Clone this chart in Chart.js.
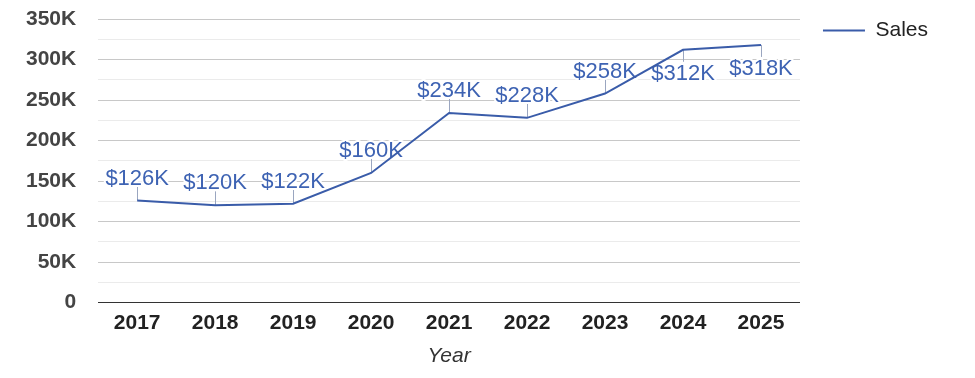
<!DOCTYPE html>
<html>
<head>
<meta charset="utf-8">
<script src="https://cdn.jsdelivr.net/npm/chart.js@4"></script>
<style>
  html, body { margin: 0; padding: 0; background: #fff; }
  #wrap { width: 975px; height: 378px; }
</style>
</head>
<body>
<div id="wrap"><canvas id="chart"></canvas></div>
<script>
const years = ['2017', '2018', '2019', '2020', '2021', '2022', '2023', '2024', '2025'];
const sales = [126000, 120000, 122000, 160000, 234000, 228000, 258000, 312000, 318000];
const seriesName = 'Sales';

const lineColor = '#3a5ca9';
const labelColor = '#3e63b3';
const FONT = 'Arial, "Liberation Sans", sans-serif';

// "$126K" style labels with a short leader line; flipped below the point near the top
const pointLabels = {
  id: 'pointLabels',
  beforeDatasetsDraw(chart) {
    const ctx = chart.ctx;
    const top = chart.chartArea.top;
    const meta = chart.getDatasetMeta(0);
    ctx.save();
    meta.data.forEach((pt, i) => {
      const below = pt.y - 30 < top + 5;
      const x = Math.round(pt.x) + 0.5;
      ctx.strokeStyle = '#9aa6c0';
      ctx.lineWidth = 1;
      ctx.beginPath();
      ctx.moveTo(x, pt.y);
      ctx.lineTo(x, below ? pt.y + 12 : pt.y - 14);
      ctx.stroke();

      const text = '$' + Math.round(sales[i] / 1000) + 'K';
      const ty = below ? pt.y + 30 : pt.y - 16;
      ctx.font = '22px ' + FONT;
      ctx.textAlign = 'center';
      ctx.textBaseline = 'alphabetic';
      ctx.lineJoin = 'round';
      ctx.strokeStyle = '#fff';
      ctx.lineWidth = 4;
      ctx.strokeText(text, pt.x, ty);
      ctx.fillStyle = labelColor;
      ctx.fillText(text, pt.x, ty);
    });
    ctx.restore();
  }
};

new Chart(document.getElementById('chart'), {
  type: 'line',
  data: {
    labels: years,
    datasets: [{
      label: seriesName,
      data: sales,
      borderColor: lineColor,
      backgroundColor: lineColor,
      borderWidth: 2,
      pointRadius: 0,
      tension: 0
    }]
  },
  options: {
    responsive: true,
    maintainAspectRatio: false,
    animation: false,
    layout: { padding: { left: 4, right: 37, top: 6, bottom: 5 } },
    plugins: {
      tooltip: { enabled: false },
      legend: {
        position: 'right',
        align: 'start',
        labels: {
          usePointStyle: true,
          pointStyle: 'line',
          pointStyleWidth: 42,
          boxHeight: 2,
          color: '#222',
          font: { family: FONT, size: 21 },
          padding: 14
        }
      }
    },
    scales: {
      x: {
        offset: true,
        grid: { display: false, drawTicks: false, tickLength: 0 },
        border: { display: true, color: '#333', width: 1 },
        ticks: { color: '#222', font: { family: FONT, size: 21, weight: 'bold' }, padding: 8 },
        title: {
          display: true,
          text: 'Year',
          color: '#333',
          font: { family: FONT, size: 21, style: 'italic' },
          padding: { top: 0, bottom: 4 }
        }
      },
      y: {
        min: 0,
        max: 350000,
        border: { display: false },
        grid: {
          drawTicks: false,
          color: c => (c.tick.value % 50000 === 0 ? '#c8c8c8' : '#ebebeb')
        },
        ticks: {
          stepSize: 25000,
          autoSkip: false,
          maxTicksLimit: 20,
          padding: 22,
          color: '#444',
          font: { family: FONT, size: 21, weight: 'bold' },
          callback: v => (v % 50000 !== 0 ? '' : v === 0 ? '0' : (v / 1000) + 'K')
        },
        // tick padding would otherwise push the plot top down too
        afterFit: s => { s.paddingTop = 19; }
      },
      // spacer between plot and legend
      gap: {
        type: 'linear',
        position: 'right',
        display: true,
        grid: { display: false, drawTicks: false },
        border: { display: false },
        ticks: { display: false },
        afterFit: s => { s.width = 9; }
      }
    }
  },
  plugins: [pointLabels]
});
</script>
</body>
</html>
